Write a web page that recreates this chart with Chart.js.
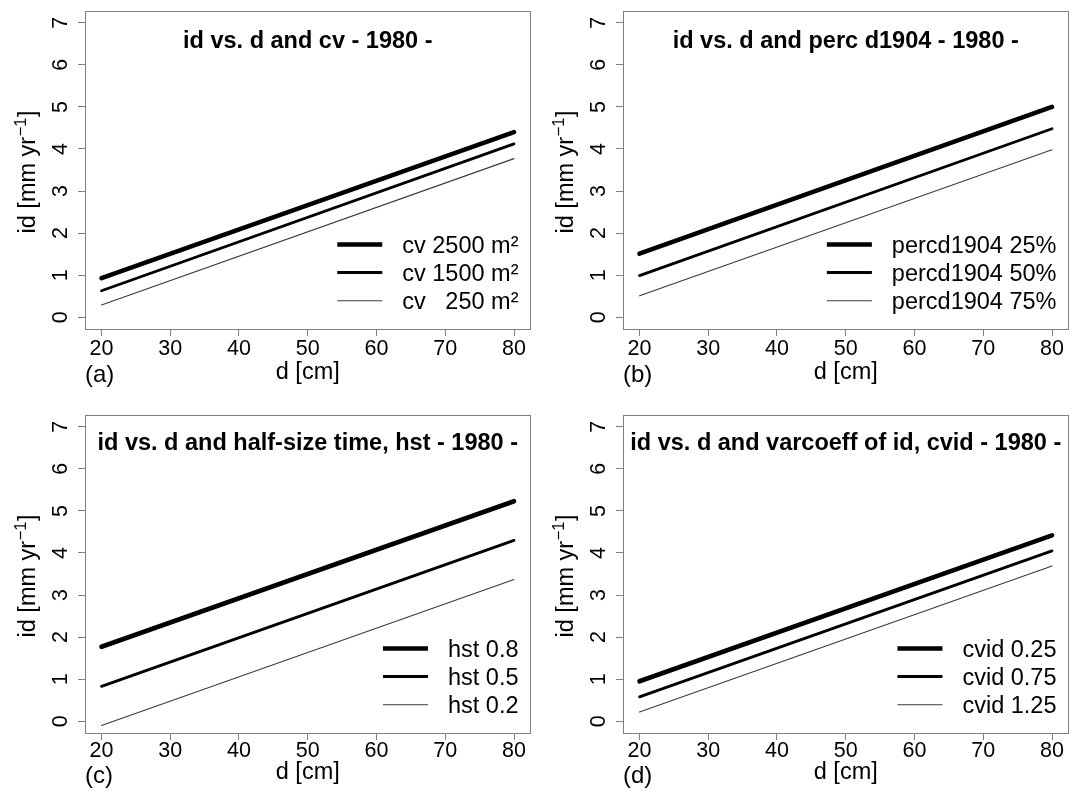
<!DOCTYPE html>
<html><head><meta charset="utf-8">
<script src="https://cdn.jsdelivr.net/npm/chart.js@4.4.1/dist/chart.umd.min.js"></script>
<style>
html,body{margin:0;padding:0;background:#fff;width:1069px;height:793px;overflow:hidden;}
canvas{position:absolute;}
</style></head><body>
<canvas id="pa"></canvas><canvas id="pb"></canvas><canvas id="pc"></canvas><canvas id="pd"></canvas>
<script>
// ---- data ----
const dCm = [20, 80];
const xTickLabels = [20, 30, 40, 50, 60, 70, 80];
const yTickLabels = [0, 1, 2, 3, 4, 5, 6, 7];

const cvLabels = ['cv 2500 m²', 'cv 1500 m²', 'cv   250 m²'];
const cv2500 = [0.93, 4.40];
const cv1500 = [0.63, 4.12];
const cv250 = [0.29, 3.77];

const percLabels = ['percd1904 25%', 'percd1904 50%', 'percd1904 75%'];
const perc25 = [1.51, 5.00];
const perc50 = [0.99, 4.48];
const perc75 = [0.51, 3.98];

const hstLabels = ['hst 0.8', 'hst 0.5', 'hst 0.2'];
const hst08 = [1.77, 5.23];
const hst05 = [0.83, 4.30];
const hst02 = [-0.10, 3.37];

const cvidLabels = ['cvid 0.25', 'cvid 0.75', 'cvid 1.25'];
const cvid025 = [0.95, 4.42];
const cvid075 = [0.58, 4.05];
const cvid125 = [0.22, 3.69];

const panelTitles = [
  'id vs. d and cv - 1980 -',
  'id vs. d and perc d1904 - 1980 -',
  'id vs. d and half-size time, hst - 1980 -',
  'id vs. d and varcoeff of id, cvid - 1980 -'
];
const panelLetters = ['(a)', '(b)', '(c)', '(d)'];
const xAxisTitle = 'd [cm]';
const yAxisTitleMain = 'id [mm yr';
const yAxisTitleSup = '\u22121';
const yAxisTitleEnd = ']';

// ---- styles ----
const FONT = "'Liberation Sans', Arial, Helvetica, sans-serif";
const lineWidths = [4.6, 2.8, 1.1];
const lineColors = ['#000000', '#000000', '#3a3a3a'];
const axisGrey = '#808080';

function series(labels, arrays) {
  return arrays.map((vals, i) => ({
    label: labels[i],
    data: dCm.map((x, j) => ({ x: x, y: vals[j] })),
    borderColor: lineColors[i],
    borderWidth: lineWidths[i],
    borderCapStyle: 'round',
    pointRadius: 0,
    fill: false,
    tension: 0
  }));
}

const deco = {
  id: 'panelDeco',
  afterDraw(chart, args, o) {
    const ctx = chart.ctx;
    const ca = chart.chartArea;
    const xs = chart.scales.x, ys = chart.scales.y;
    ctx.save();
    // box
    ctx.strokeStyle = axisGrey;
    ctx.lineWidth = 1;
    ctx.strokeRect(Math.round(ca.left) + 0.5, Math.round(ca.top) + 0.5,
      Math.round(ca.right) - Math.round(ca.left) - 1, Math.round(ca.bottom) - Math.round(ca.top));
    ctx.fillStyle = '#000';
    // x tick labels
    ctx.font = '21.5px ' + FONT;
    ctx.textAlign = 'center';
    ctx.textBaseline = 'alphabetic';
    xs.ticks.forEach(t => {
      ctx.fillText(String(t.value), xs.getPixelForValue(t.value), ca.bottom + o.tickOff);
    });
    // y tick labels (rotated)
    ys.ticks.forEach(t => {
      ctx.save();
      ctx.translate(ca.left - 18, ys.getPixelForValue(t.value));
      ctx.rotate(-Math.PI / 2);
      ctx.fillText(String(t.value), 0, 0);
      ctx.restore();
    });
    // x title
    ctx.font = '23.5px ' + FONT;
    ctx.fillText(xAxisTitle, (ca.left + ca.right) / 2, ca.bottom + o.xTitleOff);
    // letter
    ctx.textAlign = 'left';
    ctx.font = '24px ' + FONT;
    ctx.fillText(o.letter, ca.left, ca.bottom + o.letterOff);
    // y title
    ctx.save();
    ctx.translate(ca.left - 50.5, (ca.top + ca.bottom) / 2 + 2);
    ctx.rotate(-Math.PI / 2);
    ctx.font = '23.5px ' + FONT;
    const w1 = ctx.measureText(yAxisTitleMain).width;
    const w3 = ctx.measureText(yAxisTitleEnd).width;
    ctx.font = '16.5px ' + FONT;
    const w2 = ctx.measureText(yAxisTitleSup).width;
    let x0 = -(w1 + w2 + w3 + 1) / 2;
    ctx.textAlign = 'left';
    ctx.font = '23.5px ' + FONT;
    ctx.fillText(yAxisTitleMain, x0, 0);
    ctx.font = '16.5px ' + FONT;
    ctx.fillText(yAxisTitleSup, x0 + w1 + 0.5, -8.5);
    ctx.font = '23.5px ' + FONT;
    ctx.fillText(yAxisTitleEnd, x0 + w1 + w2 + 1, 0);
    ctx.restore();
    // title
    ctx.font = 'bold 23.5px ' + FONT;
    ctx.textAlign = 'center';
    ctx.fillText(o.title, (ca.left + ca.right) / 2, ca.top + o.titleOff);
    // legend
    ctx.font = '23.5px ' + FONT;
    ctx.textAlign = 'left';
    const ds = chart.data.datasets;
    const maxW = Math.max(...ds.map(d => ctx.measureText(d.label).width));
    const tx = ca.right - 12 - maxW;
    const rows = [84.5, 56.5, 28.3];
    ds.forEach((d, i) => {
      const yc = ca.bottom - rows[i];
      ctx.strokeStyle = d.borderColor;
      ctx.lineWidth = d.borderWidth;
      ctx.lineCap = 'butt';
      ctx.beginPath();
      ctx.moveTo(tx - 65, yc);
      ctx.lineTo(tx - 20, yc);
      ctx.stroke();
      ctx.fillText(d.label, tx, yc + 8.4);
    });
    ctx.restore();
  }
};

function makePanel(id, pos, datasets, conf) {
  const cv = document.getElementById(id);
  cv.width = pos.w; cv.height = pos.h;
  cv.style.left = pos.x + 'px'; cv.style.top = pos.y + 'px';
  cv.style.width = pos.w + 'px'; cv.style.height = pos.h + 'px';
  new Chart(cv, {
    type: 'line',
    data: { datasets: datasets },
    options: {
      responsive: false,
      animation: false,
      devicePixelRatio: 1,
      layout: { autoPadding: false, padding: { left: 0, top: pos.ct, right: pos.w - pos.cr, bottom: 0 } },
      plugins: { legend: { display: false }, tooltip: { enabled: false }, title: { display: false }, panelDeco: conf },
      elements: { point: { radius: 0 }, line: { tension: 0 } },
      scales: {
        x: {
          type: 'linear', min: 17.6, max: 82.4,
          afterBuildTicks: s => { s.ticks = xTickLabels.map(v => ({ value: v })); },
          afterFit: s => { s.height = pos.h - pos.cb; },
          ticks: { display: false },
          grid: { drawOnChartArea: false, drawTicks: true, tickLength: 7, color: axisGrey, lineWidth: 1 },
          border: { display: false }
        },
        y: {
          type: 'linear', min: -0.28, max: 7.28,
          afterBuildTicks: s => { s.ticks = yTickLabels.map(v => ({ value: v })); },
          afterFit: s => { s.width = pos.cl; },
          ticks: { display: false },
          grid: { drawOnChartArea: false, drawTicks: true, tickLength: 7, color: axisGrey, lineWidth: 1 },
          border: { display: false }
        }
      }
    },
    plugins: [deco]
  });
}

const topRow = { tickOff: 26, xTitleOff: 49.5, letterOff: 53, titleOff: 37.3 };
const botRow = { tickOff: 24, xTitleOff: 46, letterOff: 50, titleOff: 35 };

makePanel('pa', { x: 0, y: 0, w: 534, h: 396, cl: 85, ct: 11, cr: 530.5, cb: 329 },
  series(cvLabels, [cv2500, cv1500, cv250]),
  Object.assign({ title: panelTitles[0], letter: panelLetters[0] }, topRow));
makePanel('pb', { x: 538, y: 0, w: 531, h: 396, cl: 85, ct: 11, cr: 530.5, cb: 329 },
  series(percLabels, [perc25, perc50, perc75]),
  Object.assign({ title: panelTitles[1], letter: panelLetters[1] }, topRow));
makePanel('pc', { x: 0, y: 396, w: 534, h: 397, cl: 85, ct: 19, cr: 530.5, cb: 337 },
  series(hstLabels, [hst08, hst05, hst02]),
  Object.assign({ title: panelTitles[2], letter: panelLetters[2] }, botRow));
makePanel('pd', { x: 538, y: 396, w: 531, h: 397, cl: 85, ct: 19, cr: 530.5, cb: 337 },
  series(cvidLabels, [cvid025, cvid075, cvid125]),
  Object.assign({ title: panelTitles[3], letter: panelLetters[3] }, botRow));
</script>
</body></html>
